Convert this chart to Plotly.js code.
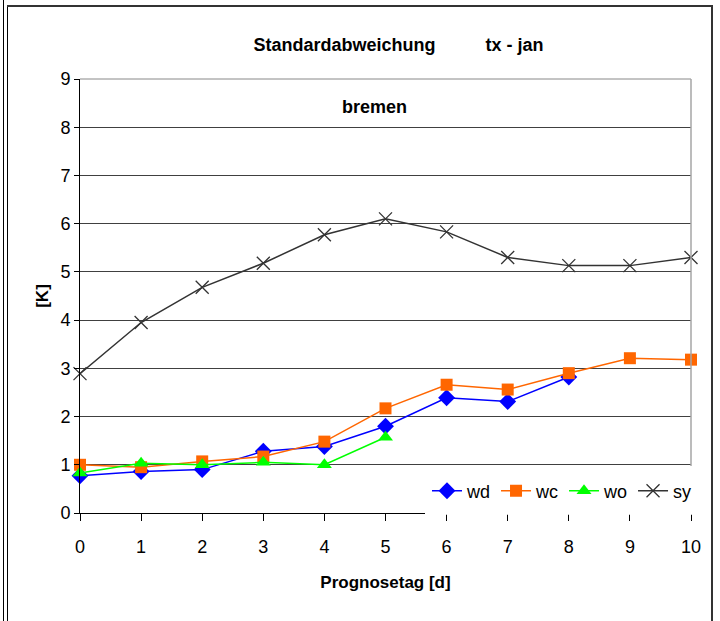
<!DOCTYPE html>
<html>
<head>
<meta charset="utf-8">
<script src="https://cdn.plot.ly/plotly-3.0.1.min.js"></script>
<style>
  html, body { margin: 0; padding: 0; background: #fff; }
  #wrap { position: relative; width: 720px; height: 621px; overflow: hidden; }
  #chart { position: absolute; left: 0; top: 0; width: 720px; height: 621px; }
  .fr { position: absolute; pointer-events: none; }
</style>
</head>
<body>
<div id="wrap">
  <div id="chart"></div>
  <div class="fr" style="left:3px; top:0; width:1px; height:621px; background:#000;"></div>
  <div class="fr" style="left:7px; top:5px; width:1px; height:616px; background:#000;"></div>
  <div class="fr" style="left:7px; top:5px; width:706px; height:2px; background:#333;"></div>
  <div class="fr" style="left:711px; top:5px; width:2px; height:616px; background:#333;"></div>
</div>
<script>
const days = [0, 1, 2, 3, 4, 5, 6, 7, 8, 9, 10];
const wdDays = [0, 1, 2, 3, 4, 5, 6, 7, 8];
const wd = [0.77, 0.86, 0.90, 1.28, 1.38, 1.80, 2.39, 2.31, 2.82];
const wcDays = [0, 1, 2, 3, 4, 5, 6, 7, 8, 9, 10];
const wc = [1.00, 0.95, 1.07, 1.17, 1.48, 2.17, 2.66, 2.56, 2.90, 3.21, 3.18];
const woDays = [0, 1, 2, 3, 4, 5];
const wo = [0.83, 1.03, 1.00, 1.05, 1.00, 1.57];
const syDays = [0, 1, 2, 3, 4, 5, 6, 7, 8, 9, 10];
const sy = [2.89, 3.95, 4.68, 5.18, 5.77, 6.10, 5.83, 5.30, 5.13, 5.13, 5.30];
const xTicks = [0, 1, 2, 3, 4, 5, 6, 7, 8, 9, 10];
const yTicks = [0, 1, 2, 3, 4, 5, 6, 7, 8, 9];

const FONT = 'Liberation Sans, Arial, sans-serif';

const traces = [
  { x: wdDays, y: wd, name: 'wd', type: 'scatter', mode: 'lines+markers', cliponaxis: false,
    line: { color: '#0000FF', width: 1.5 },
    marker: { symbol: 'diamond', size: 13, color: '#0000FF' } },
  { x: wcDays, y: wc, name: 'wc', type: 'scatter', mode: 'lines+markers', cliponaxis: false,
    line: { color: '#FF6600', width: 1.5 },
    marker: { symbol: 'square', size: 12, color: '#FF6600' } },
  { x: woDays, y: wo, name: 'wo', type: 'scatter', mode: 'lines+markers', cliponaxis: false,
    line: { color: '#00FF00', width: 1.5 },
    marker: { symbol: 'triangle-up', size: 13, color: '#00FF00' } },
  { x: syDays, y: sy, name: 'sy', type: 'scatter', mode: 'lines+markers', cliponaxis: false,
    line: { color: '#333333', width: 1.5 },
    marker: { symbol: 'x-thin-open', size: 13, color: '#333333', line: { color: '#333333', width: 1.3 } } }
];

const layout = {
  width: 720, height: 621,
  margin: { l: 80, r: 29, t: 79, b: 108, pad: 0 },
  paper_bgcolor: '#ffffff', plot_bgcolor: '#ffffff',
  font: { family: FONT, size: 18, color: '#000' },
  showlegend: true,
  title: {
    text: 'Standardabweichung\u00A0\u00A0\u00A0\u00A0\u00A0\u00A0\u00A0\u00A0\u00A0\u00A0tx - jan',
    font: { family: FONT, size: 18, color: '#000', weight: 'bold' },
    xref: 'container', yref: 'container',
    x: 398.5 / 720, xanchor: 'center',
    y: 1 - 45 / 621, yanchor: 'middle'
  },
  xaxis: {
    range: [0, 10], tickvals: xTicks, ticktext: xTicks.map(String),
    ticks: 'outside', ticklen: 7, tickwidth: 1, tickcolor: '#000',
    showline: true, linecolor: '#000', linewidth: 1,
    showgrid: false, zeroline: false, ticklabelstandoff: 10,
    tickfont: { family: FONT, size: 18, color: '#000' },
    title: { text: 'Prognosetag [d]', standoff: 20,
             font: { family: FONT, size: 17, color: '#000', weight: 'bold' } },
    fixedrange: true
  },
  yaxis: {
    range: [0, 9], tickvals: yTicks, ticktext: yTicks.map(String),
    ticks: 'outside', ticklen: 5, tickwidth: 1, tickcolor: '#000',
    showline: true, linecolor: '#000', linewidth: 1,
    showgrid: true, gridcolor: '#404040', gridwidth: 1, zeroline: false,
    tickfont: { family: FONT, size: 18, color: '#000' },
    title: { text: '[K]', standoff: 7,
             font: { family: FONT, size: 17, color: '#000', weight: 'bold' } },
    fixedrange: true
  },
  legend: {
    orientation: 'h', x: (427 - 80) / 611, xanchor: 'left',
    y: (513 - 491) / 434, yanchor: 'middle',
    bgcolor: 'rgba(0,0,0,0)', borderwidth: 0, itemgap: 6,
    font: { family: FONT, size: 18, color: '#000' }
  },
  annotations: [
    { text: '<b>bremen</b>', xref: 'paper', yref: 'paper',
      x: (374 - 80) / 611, y: (513 - 107) / 434, xanchor: 'center', yanchor: 'middle',
      showarrow: false, font: { family: FONT, size: 18, color: '#000' } }
  ],
  shapes: [
    { type: 'line', xref: 'paper', yref: 'paper', x0: 0, x1: 1, y0: 1, y1: 1,
      line: { color: '#888888', width: 1 }, layer: 'above' },
    { type: 'line', xref: 'paper', yref: 'paper', x0: 1, x1: 1, y0: 0, y1: 1,
      line: { color: '#a6a6a6', width: 1.5 }, layer: 'above' },
    { type: 'rect', xref: 'paper', yref: 'paper', x0: (425 - 80) / 611, x1: 1.005,
      y0: -0.004, y1: (513 - 466) / 434,
      fillcolor: '#ffffff', line: { width: 0 }, layer: 'above' }
  ]
};

Plotly.newPlot('chart', traces, layout, { staticPlot: true, displayModeBar: false });
</script>
</body>
</html>
